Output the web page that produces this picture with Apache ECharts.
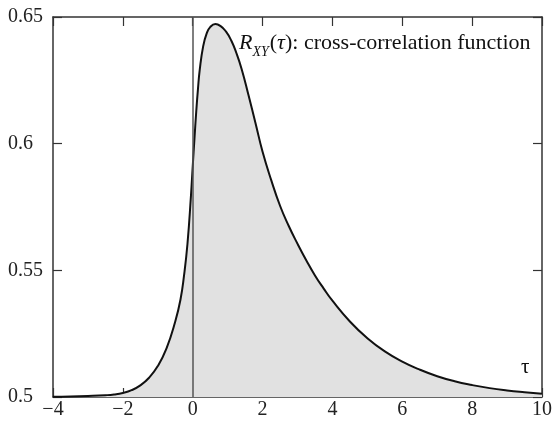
<!DOCTYPE html>
<html>
<head>
<meta charset="utf-8">
<script src="https://cdn.jsdelivr.net/npm/echarts@6/dist/echarts.min.js"></script>
<style>
  html, body { margin: 0; padding: 0; background: #fff; }
  #chart { width: 555px; height: 423px; }
</style>
</head>
<body>
<div id="chart"></div>
<script>
// tau values and the cross-correlation
const tauValues = [-4, -3.5, -3, -2.5, -2.25, -2, -1.75, -1.5, -1.25, -1, -0.75, -0.5, -0.35, -0.25, -0.15, -0.05, 0,
  0.05, 0.1, 0.15, 0.2, 0.3, 0.4, 0.5, 0.65, 0.8, 0.95, 1.1, 1.25, 1.4, 1.6, 1.8, 2.0, 2.25, 2.5, 2.75, 3.0,
  3.25, 3.5, 3.75, 4.0, 4.5, 5.0, 5.5, 6.0, 6.5, 7.0, 7.5, 8.0, 8.5, 9.0, 9.5, 10];
const rValues = [0.5001, 0.5002, 0.5004, 0.5007, 0.501, 0.5016, 0.5027, 0.5046, 0.5076, 0.5122, 0.5192, 0.5298, 0.5385, 0.5478, 0.5605, 0.5795, 0.591,
  0.602, 0.6125, 0.6215, 0.629, 0.6385, 0.6435, 0.646, 0.6472, 0.6464, 0.6443, 0.6408, 0.6358, 0.6295, 0.619, 0.608, 0.5968, 0.5855, 0.5755, 0.5675, 0.5605,
  0.554, 0.548, 0.5428, 0.538, 0.5298, 0.5232, 0.518, 0.514, 0.5108, 0.5082, 0.5062, 0.5047, 0.5035, 0.5026, 0.5019, 0.5013];
const xTicks = { min: -4, max: 10, step: 2 };
const yTicks = { min: 0.5, max: 0.65, step: 0.05 };

const serif = 'Liberation Serif';
const frame = '#333';

const chart = echarts.init(document.getElementById('chart'));

const axisCommon = {
  type: 'value',
  axisLine: { show: true, onZero: false, lineStyle: { color: frame, width: 1.5 } },
  axisTick: { show: true, inside: true, length: 9, lineStyle: { color: frame, width: 1.2 } },
  splitLine: { show: false }
};

chart.setOption({
  animation: false,
  grid: { left: 53, right: 8, top: 17, bottom: 26 },
  xAxis: [
    Object.assign({}, axisCommon, {
      position: 'bottom',
      min: xTicks.min, max: xTicks.max, interval: xTicks.step,
      axisLabel: {
        color: '#222', fontFamily: serif, fontSize: 20, margin: 3,
        formatter: v => String(v).replace('-', '\u2212')
      }
    }),
    Object.assign({}, axisCommon, {
      position: 'top',
      min: xTicks.min, max: xTicks.max, interval: xTicks.step,
      axisLabel: { show: false }
    })
  ],
  yAxis: [
    Object.assign({}, axisCommon, {
      position: 'left',
      min: yTicks.min, max: yTicks.max, interval: yTicks.step,
      axisLabel: {
        color: '#222', fontFamily: serif, fontSize: 20, margin: 45, align: 'left',
        formatter: v => String(+v.toFixed(2))
      }
    }),
    Object.assign({}, axisCommon, {
      position: 'right',
      min: yTicks.min, max: yTicks.max, interval: yTicks.step,
      axisLabel: { show: false }
    })
  ],
  series: [{
    type: 'line',
    data: tauValues.map((t, i) => [t, rValues[i]]),
    smooth: 0.5,
    symbol: 'none',
    lineStyle: { color: '#111', width: 2 },
    areaStyle: { color: '#e1e1e1', opacity: 1, origin: 'start' },
    markLine: {
      silent: true,
      symbol: 'none',
      label: { show: false },
      lineStyle: { color: '#555', width: 1.5, type: 'solid' },
      data: [{ xAxis: 0 }]
    }
  }],
  graphic: [
    {
      type: 'text',
      left: 239, top: 32,
      style: {
        text: '{i|R}{s|XY}{n|(}{i|\u03c4}{n|): cross-correlation function}',
        fontFamily: serif,
        fill: '#111',
        rich: {
          i: { fontFamily: serif, fontStyle: 'italic', fontSize: 22, fill: '#111', verticalAlign: 'bottom' },
          s: { fontFamily: serif, fontStyle: 'italic', fontSize: 14, fill: '#111', verticalAlign: 'bottom', padding: [0, 1, -5, 0] },
          n: { fontFamily: serif, fontSize: 22, fill: '#111', verticalAlign: 'bottom' }
        }
      }
    },
    {
      type: 'text',
      left: 521, top: 357,
      style: { text: '\u03c4', fontFamily: serif, fontSize: 21, fill: '#111' }
    }
  ]
});
</script>
</body>
</html>
